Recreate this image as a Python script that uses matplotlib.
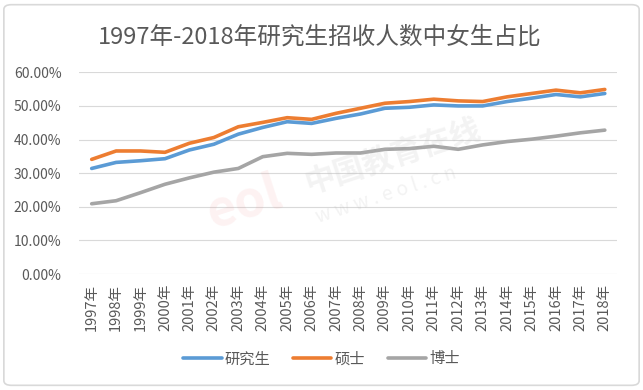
import matplotlib.pyplot as plt
from matplotlib.patches import FancyBboxPatch
import numpy as np

plt.rcParams['font.family'] = ['Noto Sans CJK SC', 'DejaVu Sans']

# 数据：1997-2018 年研究生招生中女生占比 (%)
years = [str(y) + "年" for y in range(1997, 2019)]
yanjiusheng = [31.4, 33.2, 33.7, 34.3, 36.9, 38.6, 41.6, 43.6, 45.3, 44.8, 46.3,
               47.6, 49.3, 49.6, 50.3, 50.0, 50.0, 51.3, 52.3, 53.4, 52.7, 53.7]
shuoshi = [34.1, 36.6, 36.6, 36.2, 38.9, 40.6, 43.8, 45.1, 46.5, 46.0, 47.8,
           49.3, 50.8, 51.3, 52.0, 51.5, 51.3, 52.7, 53.7, 54.7, 53.9, 54.9]
boshi = [20.9, 21.8, 24.2, 26.7, 28.6, 30.3, 31.4, 34.9, 35.9, 35.6, 36.0,
         36.0, 37.1, 37.3, 38.0, 37.1, 38.4, 39.4, 40.1, 41.0, 42.0, 42.8]

series = [("研究生", yanjiusheng, "#5B9BD5"),
          ("硕士", shuoshi, "#ED7D31"),
          ("博士", boshi, "#A5A5A5")]

fig = plt.figure(figsize=(6.43, 3.9), dpi=100)
ax = fig.add_axes([0.1236, 0.2974, 0.836, 0.5172])

# 外框
fig.patches.append(FancyBboxPatch((0.006, 0.012), 0.988, 0.976,
                                  boxstyle="round,pad=0,rounding_size=0.012",
                                  transform=fig.transFigure, fill=False,
                                  edgecolor="#d9d9d9", linewidth=1.2))

x = np.arange(len(years))
for name, vals, c in series:
    ax.plot(x, vals, color=c, linewidth=2.6, label=name, solid_capstyle="round")

ax.set_xlim(-0.5, len(years) - 0.5)
ax.set_ylim(0, 60)
ax.set_yticks(np.arange(0, 61, 10))
ax.set_yticklabels([f"{v:.2f}%" for v in np.arange(0, 61, 10)])
ax.set_xticks(x)
ax.set_xticklabels(years, rotation=90)
ax.tick_params(length=0, colors="#595959")
ax.tick_params(axis="y", pad=13, labelsize=10)
ax.tick_params(axis="x", pad=7, labelsize=10.5)
ax.grid(axis="y", color="#d9d9d9", linewidth=0.8)
ax.set_axisbelow(True)
for s in ax.spines.values():
    s.set_visible(False)

# 水印
fig.text(0.61, 0.60, "中国教育在线", fontsize=22, color="#bbbbbb", alpha=0.18,
         rotation=18, ha="center", va="center", fontweight="bold")
fig.text(0.60, 0.50, "w w w . e o l . c n", fontsize=14, color="#bbbbbb", alpha=0.18,
         rotation=18, ha="center", va="center")
fig.text(0.38, 0.48, "eol", fontsize=36, color="#f08080", alpha=0.1,
         rotation=18, ha="center", va="center", fontweight="bold", style="italic")

fig.text(0.497, 0.905, "1997年-2018年研究生招收人数中女生占比",
         fontsize=17, color="#595959", ha="center", va="center")

fig.legend(loc="center", bbox_to_anchor=(0.5, 0.08), ncol=3, frameon=False,
           fontsize=11, labelcolor="#595959", handlelength=2.5,
           handletextpad=0.2, columnspacing=1.5)

fig.savefig("out.png", dpi=100)
